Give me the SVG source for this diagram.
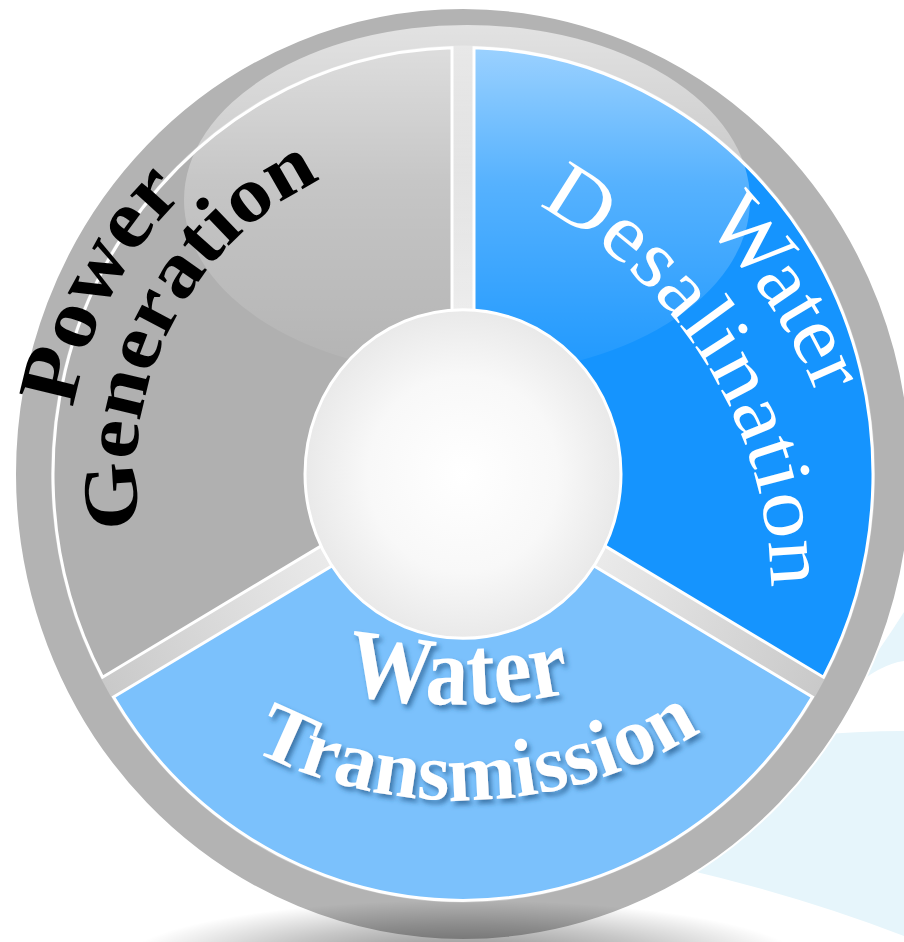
<svg xmlns="http://www.w3.org/2000/svg" width="904" height="942" viewBox="0 0 904 942">
  <defs>
    <style>
      .seg { stroke: #ffffff; stroke-width: 3; vector-effect: non-scaling-stroke; }
      .lbl { font-family: "Liberation Serif", "Times New Roman", serif; }
      .dark { fill: #000000; font-weight: bold; }
      .light { fill: #ffffff; }
    </style>
    <radialGradient id="gapGrad" cx="0" cy="0" r="412" gradientUnits="userSpaceOnUse">
      <stop offset="0.35" stop-color="#ececec"/>
      <stop offset="1" stop-color="#c9c9c9"/>
    </radialGradient>
    <radialGradient id="centerGrad" cx="0.5" cy="0.5" r="0.5">
      <stop offset="0" stop-color="#ffffff"/>
      <stop offset="0.6" stop-color="#f8f8f8"/>
      <stop offset="1" stop-color="#e9e9e9"/>
    </radialGradient>
    <linearGradient id="glossGrad" x1="0" y1="0" x2="0" y2="1">
      <stop offset="0" stop-color="#ffffff" stop-opacity="0.62"/>
      <stop offset="0.45" stop-color="#ffffff" stop-opacity="0.28"/>
      <stop offset="1" stop-color="#ffffff" stop-opacity="0.04"/>
    </linearGradient>
    <radialGradient id="shadowGrad" cx="0.5" cy="0.5" r="0.5">
      <stop offset="0" stop-color="#000000" stop-opacity="0.5"/>
      <stop offset="0.6" stop-color="#000000" stop-opacity="0.22"/>
      <stop offset="1" stop-color="#000000" stop-opacity="0"/>
    </radialGradient>
    <filter id="txtShadow" x="-10%" y="-20%" width="130%" height="150%">
      <feDropShadow dx="3" dy="4" stdDeviation="2.5" flood-color="#2a5d8f" flood-opacity="0.75"/>
    </filter>
    <path id="arcPower" d="M 73.53 408.13 A 395 395 0 0 1 660.5 131.93"/>
    <path id="arcGeneration" d="M 140.48 527.97 A 327 327 0 0 1 626.5 190.81"/>
    <path id="arcWaterD" d="M 702.88 223.42 A 525 525 0 0 1 824.34 773.56"/>
    <path id="arcDesal" d="M 538.24 205.86 A 440 440 0 0 1 668.06 876.83"/>
    <path id="arcWaterT" d="M 345 693 A 553 553 0 0 0 736.5 628.9"/>
    <path id="arcTrans" d="M 252 750 A 456 456 0 0 0 888.5 499.96"/>
  </defs>

  <rect width="904" height="942" fill="#ffffff"/>

  <g id="background-swoosh" fill="#e6f5fb">
    <path d="M 850 690 Q 880 650 904 612 L 904 661 Q 880 664 850 690 Z"/>
    <path d="M 800 736 Q 860 731 904 731 L 904 936 Q 800 896 680 868 L 700 760 Z"/>
  </g>

  <g id="ring" transform="translate(463 474) scale(1 1.04)">
    <circle r="448" fill="#b3b3b3" stroke="#ffffff" stroke-width="2" vector-effect="non-scaling-stroke"/>
    <circle r="412" fill="url(#gapGrad)"/>
  </g>

  <g transform="translate(463 474) scale(1 1.04)">
    <g id="node-power">
      <path class="seg" fill="#b0b0b0" d="M -360.44 195.40 A 410 410 0 0 1 -11.00 -409.85 L -11.00 -149.60 A 150 150 0 0 0 -135.05 65.28 Z"/>
    </g>
    <g id="node-desalination">
      <path class="seg" fill="#1594fe" d="M 11.00 -409.85 A 410 410 0 0 1 360.44 195.40 L 135.05 65.28 A 150 150 0 0 0 11.00 -149.60 Z"/>
    </g>
    <g id="node-transmission">
      <path class="seg" fill="#7bc1fc" d="M 349.44 214.46 A 410 410 0 0 1 -349.44 214.46 L -124.05 84.32 A 150 150 0 0 0 124.05 84.32 Z"/>
    </g>
  </g>

  <ellipse id="gloss" cx="467" cy="200" rx="283" ry="175" fill="url(#glossGrad)"/>

  <g id="node-center" transform="translate(463 474) scale(1 1.04)">
    <circle r="158" fill="url(#centerGrad)" stroke="#ffffff" stroke-width="3" vector-effect="non-scaling-stroke"/>
  </g>

  <g id="labels" class="lbl">
    <text class="dark" font-size="84"><textPath href="#arcPower" textLength="245" lengthAdjust="spacingAndGlyphs">Power</textPath></text>
    <text class="dark" font-size="78"><textPath href="#arcGeneration" textLength="421" lengthAdjust="spacingAndGlyphs">Generation</textPath></text>
    <text class="light" font-size="84"><textPath href="#arcWaterD" textLength="208" lengthAdjust="spacingAndGlyphs">Water</textPath></text>
    <text class="light" font-size="82"><textPath href="#arcDesal" textLength="469" lengthAdjust="spacingAndGlyphs">Desalination</textPath></text>
    <g filter="url(#txtShadow)">
      <text class="light" font-size="98" font-weight="bold"><textPath href="#arcWaterT" textLength="228" lengthAdjust="spacingAndGlyphs">Water</textPath></text>
      <text class="light" font-size="82" font-weight="bold"><textPath href="#arcTrans" textLength="470" lengthAdjust="spacingAndGlyphs">Transmission</textPath></text>
    </g>
  </g>

  <ellipse id="bottom-shadow" cx="463" cy="962" rx="340" ry="62" fill="url(#shadowGrad)"/>
</svg>
